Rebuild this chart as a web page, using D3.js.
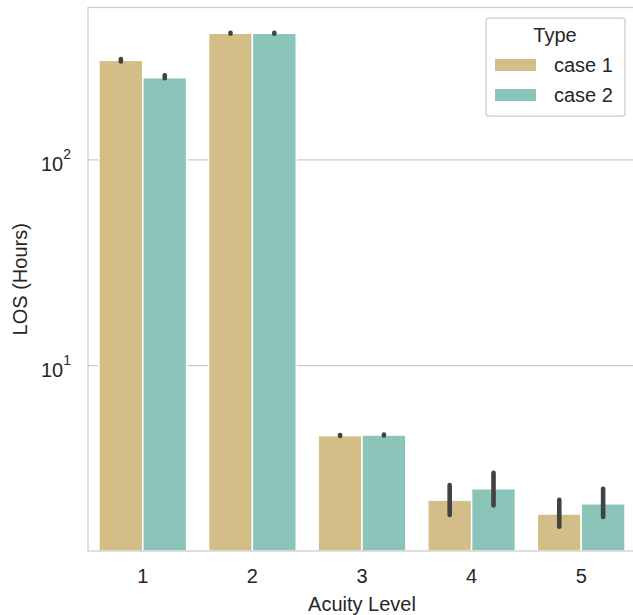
<html>

<head>
    <title>LOS by Acuity Level</title>
    <script src="https://d3js.org/d3.v7.min.js"></script>
    <style>
        body { margin: 0; background: #fff; }
        text { font-family: "Liberation Sans", Arial, sans-serif; fill: #262626; }
    </style>
</head>

<body>
    <div id="myPlot"></div>
    <script>
        // data
        var levels = ["1", "2", "3", "4", "5"];
        var types = ["case 1", "case 2"];
        var case1 = [305, 413, 4.57, 2.22, 1.90];
        var case2 = [251, 413, 4.60, 2.52, 2.13];
        // confidence intervals (low, high)
        var case1Lo = [301, 411, 4.55, 1.88, 1.65];
        var case1Hi = [309, 415, 4.60, 2.63, 2.23];
        var case2Lo = [249.5, 411, 4.58, 2.09, 1.84];
        var case2Hi = [258, 415, 4.62, 3.01, 2.52];
        var yTicks = [10, 100];
        var colors = ["#d4be87", "#8bc4b9"];

        var W = 633, H = 615;
        var mLeft = 88, mTop = 7.5, mRight = 636, mBottom = 551;

        var svg = d3.select("#myPlot").append("svg")
            .attr("width", W)
            .attr("height", H);

        var x = d3.scaleBand()
            .domain(levels)
            .range([mLeft, mRight])
            .paddingInner(0.2)
            .paddingOuter(0.1);

        var xSub = d3.scaleBand()
            .domain(types)
            .range([0, x.bandwidth()]);

        var y = d3.scaleLog()
            .domain([1.256, 551])
            .range([mBottom, mTop]);

        // grid lines
        svg.append("g")
            .selectAll("line")
            .data(yTicks)
            .enter()
            .append("line")
            .attr("x1", mLeft)
            .attr("x2", mRight)
            .attr("y1", function (d) { return y(d); })
            .attr("y2", function (d) { return y(d); })
            .attr("stroke", "#cccccc")
            .attr("stroke-width", 1.25);

        var rows = levels.map(function (l, i) {
            return [
                { level: l, type: types[0], v: case1[i], lo: case1Lo[i], hi: case1Hi[i], c: colors[0] },
                { level: l, type: types[1], v: case2[i], lo: case2Lo[i], hi: case2Hi[i], c: colors[1] }
            ];
        }).flat();

        // bars
        svg.append("g")
            .selectAll("rect")
            .data(rows)
            .enter()
            .append("rect")
            .attr("x", function (d) { return x(d.level) + xSub(d.type); })
            .attr("width", xSub.bandwidth())
            .attr("y", function (d) { return y(d.v); })
            .attr("height", function (d) { return mBottom - y(d.v); })
            .attr("fill", function (d) { return d.c; })
            .attr("stroke", "#ffffff")
            .attr("stroke-width", 1.5);

        // error bars
        svg.append("g")
            .selectAll("line")
            .data(rows)
            .enter()
            .append("line")
            .attr("x1", function (d) { return x(d.level) + xSub(d.type) + xSub.bandwidth() / 2; })
            .attr("x2", function (d) { return x(d.level) + xSub(d.type) + xSub.bandwidth() / 2; })
            .attr("y1", function (d) { return y(d.lo); })
            .attr("y2", function (d) { return y(d.hi); })
            .attr("stroke", "#424242")
            .attr("stroke-width", 4.6)
            .attr("stroke-linecap", "round");

        // spines
        svg.append("rect")
            .attr("x", mLeft)
            .attr("y", mTop)
            .attr("width", mRight - mLeft)
            .attr("height", mBottom - mTop)
            .attr("fill", "none")
            .attr("stroke", "#cccccc")
            .attr("stroke-width", 1.25);

        // x tick labels
        svg.append("g")
            .selectAll("text")
            .data(levels)
            .enter()
            .append("text")
            .attr("x", function (d) { return x(d) + x.bandwidth() / 2; })
            .attr("y", 583)
            .attr("text-anchor", "middle")
            .style("font-size", "20px")
            .text(function (d) { return d; });

        // y tick labels, 10 with superscript exponent
        var yl = svg.append("g")
            .selectAll("text")
            .data(yTicks)
            .enter()
            .append("text")
            .attr("x", 71)
            .attr("y", function (d) { return y(d) + 11; })
            .attr("text-anchor", "end")
            .style("font-size", "20px");
        yl.append("tspan").text("10");
        yl.append("tspan")
            .attr("dy", -12)
            .style("font-size", "14px")
            .text(function (d) { return Math.round(Math.log10(d)); });

        // axis titles
        svg.append("text")
            .attr("x", (mLeft + mRight) / 2)
            .attr("y", 611)
            .attr("text-anchor", "middle")
            .style("font-size", "20px")
            .text("Acuity Level");

        svg.append("text")
            .attr("transform", "translate(27," + ((mTop + mBottom) / 2) + ") rotate(-90)")
            .attr("text-anchor", "middle")
            .style("font-size", "20px")
            .text("LOS (Hours)");

        // legend
        var lg = svg.append("g");
        lg.append("rect")
            .attr("x", 486)
            .attr("y", 18)
            .attr("width", 139)
            .attr("height", 98)
            .attr("rx", 3)
            .attr("fill", "#ffffff")
            .attr("fill-opacity", 0.8)
            .attr("stroke", "#cccccc")
            .attr("stroke-width", 1.25);
        lg.append("text")
            .attr("x", 555)
            .attr("y", 42)
            .attr("text-anchor", "middle")
            .style("font-size", "20px")
            .text("Type");
        var items = lg.selectAll("g.item")
            .data(types)
            .enter()
            .append("g")
            .attr("transform", function (d, i) { return "translate(0," + (i * 30) + ")"; });
        items.append("rect")
            .attr("x", 495)
            .attr("y", 59)
            .attr("width", 41)
            .attr("height", 12)
            .attr("fill", function (d, i) { return colors[i]; });
        items.append("text")
            .attr("x", 554)
            .attr("y", 72)
            .style("font-size", "20px")
            .text(function (d) { return d; });
    </script>
</body>

</html>
